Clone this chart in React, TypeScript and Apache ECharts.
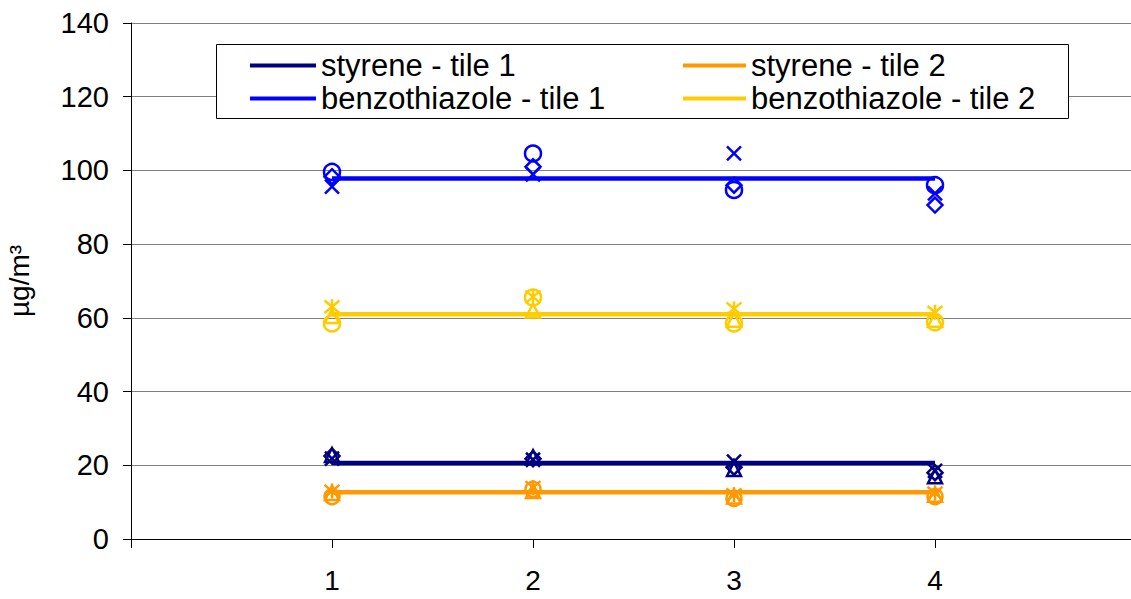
import React, { useEffect, useRef } from "react";
import * as echarts from "echarts";

const xs = [1, 2, 3, 4];
const xTickLabels = ["1", "2", "3", "4"];

const styreneT1Mean = [20.6, 20.6, 20.6, 20.6];
const styreneT2Mean = [12.7, 12.7, 12.7, 12.7];
const benzoT1Mean = [97.8, 97.8, 97.8, 97.8];
const benzoT2Mean = [61.0, 61.0, 61.0, 61.0];

// replicates
const benzoT1A = [99.6, 104.6, 94.7, 96.0];
const benzoT1B = [98.3, 101.0, 96.0, 90.6];
const benzoT1C = [95.6, 98.9, 104.6, 93.8];

const benzoT2A = [63.0, 65.7, 62.5, 61.5];
const benzoT2B = [58.5, 65.5, 58.5, 58.8];
const benzoT2C = [60.5, 62.0, 59.5, 59.5];

const styreneT1A = [22.8, 22.2, 19.0, 17.0];
const styreneT1B = [22.5, 21.8, 19.5, 18.0];
const styreneT1C = [21.8, 21.5, 21.0, 18.5];

const styreneT2A = [13.0, 14.0, 12.0, 12.5];
const styreneT2B = [11.5, 13.5, 11.0, 11.5];
const styreneT2C = [12.5, 13.0, 11.5, 12.0];

const NAVY = "#000080";
const BLUE = "#0000FF";
const ORANGE = "#FF9900";
const GOLD = "#FFCC00";

const X_PATH = "path://M0,0L10,10M10,0L0,10";
const STAR_PATH = "path://M0,0L10,10M10,0L0,10M5,-1L5,11";

const FONT = "Liberation Sans, Arial, sans-serif";

function pts(vals: number[]) {
  return vals.map((v, i) => [xs[i], v]);
}

function lineSeries(name: string, vals: number[], color: string) {
  return {
    name,
    type: "line",
    data: pts(vals),
    symbol: "none",
    showSymbol: false,
    lineStyle: { color, width: 4.5 },
    itemStyle: { color },
    z: 2,
  };
}

function markSeries(vals: number[], color: string, symbol: string, size = 15) {
  return {
    type: "line",
    data: pts(vals),
    symbol,
    symbolSize: size,
    showSymbol: true,
    lineStyle: { width: 0, opacity: 0 },
    itemStyle: { color: "none", borderColor: color, borderWidth: 2.5 },
    z: 3,
  };
}

function legendBlock(left: number, iconW: number, names: string[]) {
  return {
    left,
    top: 50,
    padding: 0,
    orient: "vertical",
    itemWidth: iconW,
    itemHeight: 4,
    itemGap: 2,
    icon: "rect",
    data: names,
    textStyle: { fontSize: 31, fontFamily: FONT, color: "#000", lineHeight: 30 },
    z: 5,
  };
}

export default function App() {
  const ref = useRef<HTMLDivElement>(null);
  useEffect(() => {
    document.body.style.margin = "0";
    document.body.style.overflow = "hidden";
    const chart = echarts.init(ref.current!, null, { renderer: "svg" });
    chart.setOption({
      animation: false,
      backgroundColor: "#fff",
      grid: {
        left: 131,
        top: 23,
        width: 1005,
        bottom: 60,
        containLabel: false,
        outerBoundsMode: "none",
      },
      xAxis: {
        type: "value",
        min: 0,
        max: 5,
        interval: 1,
        axisLine: { show: true, lineStyle: { color: "#000", width: 1 } },
        axisTick: { show: true, inside: false, length: 9, lineStyle: { color: "#000" } },
        axisLabel: {
          fontSize: 28,
          fontFamily: FONT,
          color: "#000",
          margin: 27,
          formatter: (v: number) => (v >= 1 && v <= 4 ? xTickLabels[v - 1] : ""),
        },
        splitLine: { show: false },
      },
      yAxis: {
        type: "value",
        min: 0,
        max: 140,
        interval: 20,
        name: "µg/m³",
        nameLocation: "middle",
        nameRotate: 90,
        nameGap: 98,
        nameTextStyle: { fontSize: 28, fontFamily: FONT, color: "#000" },
        axisLine: { show: true, lineStyle: { color: "#000", width: 1 } },
        axisTick: { show: true, inside: false, length: 8, lineStyle: { color: "#000" } },
        axisLabel: { fontSize: 29, fontFamily: FONT, color: "#000", margin: 22 },
        splitLine: { show: true, lineStyle: { color: "#808080", width: 1 } },
      },
      graphic: [
        {
          type: "rect",
          z: 3,
          shape: { x: 216.5, y: 44.5, width: 852, height: 74 },
          style: { fill: "#fff", stroke: "#000", lineWidth: 1 },
        },
      ],
      legend: [
        legendBlock(250, 66, ["styrene - tile 1", "benzothiazole - tile 1"]),
        legendBlock(683, 63, ["styrene - tile 2", "benzothiazole - tile 2"]),
      ],
      series: [
        lineSeries("styrene - tile 1", styreneT1Mean, NAVY),
        lineSeries("styrene - tile 2", styreneT2Mean, ORANGE),
        lineSeries("benzothiazole - tile 1", benzoT1Mean, BLUE),
        lineSeries("benzothiazole - tile 2", benzoT2Mean, GOLD),
        markSeries(benzoT1A, BLUE, "circle", 16),
        markSeries(benzoT1B, BLUE, "diamond", 15),
        markSeries(benzoT1C, BLUE, X_PATH, 14),
        markSeries(benzoT2A, GOLD, STAR_PATH, 15),
        markSeries(benzoT2B, GOLD, "circle", 16),
        markSeries(benzoT2C, GOLD, "triangle", 14),
        markSeries(styreneT1A, NAVY, "triangle", 14),
        markSeries(styreneT1B, NAVY, "diamond", 15),
        markSeries(styreneT1C, NAVY, X_PATH, 14),
        markSeries(styreneT2A, ORANGE, STAR_PATH, 15),
        markSeries(styreneT2B, ORANGE, "circle", 15),
        markSeries(styreneT2C, ORANGE, "triangle", 14),
      ],
    });
    return () => chart.dispose();
  }, []);
  return <div ref={ref} style={{ width: 1131, height: 599 }} />;
}
